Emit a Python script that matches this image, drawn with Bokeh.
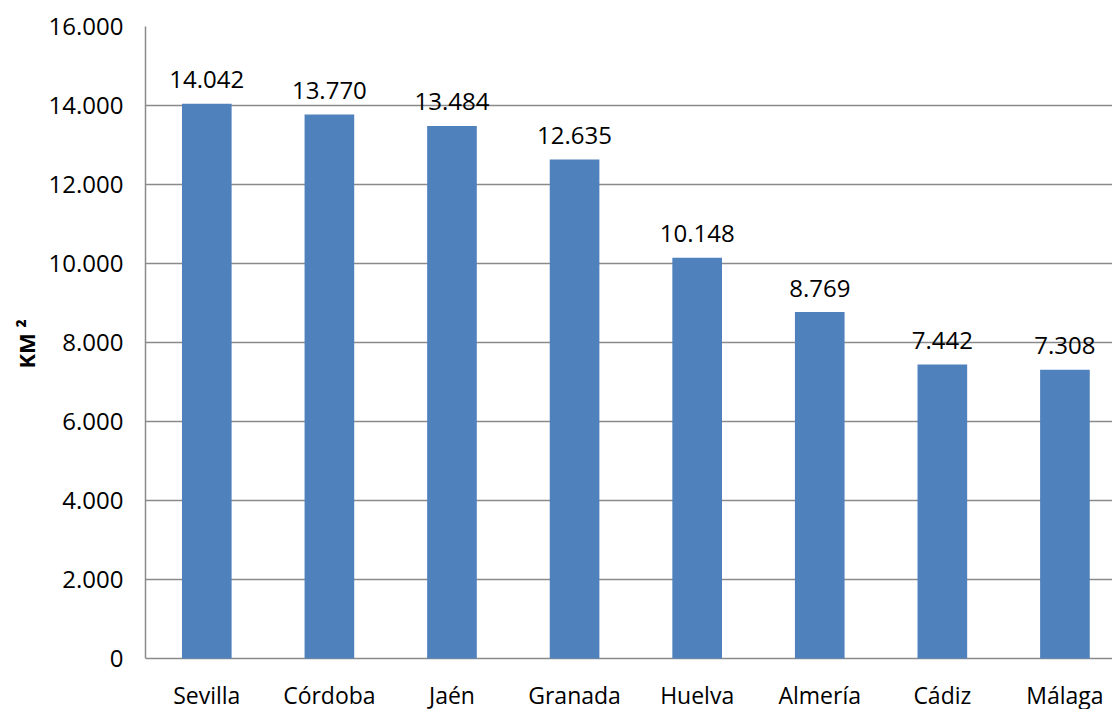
from bokeh.plotting import figure
from bokeh.models import Range1d, FixedTicker, ColumnDataSource, Title
from bokeh.embed import file_html
from bokeh.resources import INLINE
from bokeh.core.properties import value

provinces = ["Sevilla", "Córdoba", "Jaén", "Granada", "Huelva", "Almería", "Cádiz", "Málaga"]
areas = [14042, 13770, 13484, 12635, 10148, 8769, 7442, 7308]
area_labels = ["14.042", "13.770", "13.484", "12.635", "10.148", "8.769", "7.442", "7.308"]
y_ticks = [0, 2000, 4000, 6000, 8000, 10000, 12000, 14000, 16000]
y_tick_labels = ["0", "2.000", "4.000", "6.000", "8.000", "10.000", "12.000", "14.000", "16.000"]
y_title = "KM ²"

FONT = "Open Sans"
xs = [i + 0.5 for i in range(len(provinces))]
src = ColumnDataSource(dict(x=xs, top=areas, label=area_labels, name=provinces,
                            base=[0] * len(provinces)))

# frame runs from y=26 to the bottom of the canvas; value 0 sits 51px above it
H = 709
TOP = 26
ZERO_PX = 658
y_max = y_ticks[-1]
y_min = -y_max * (H - ZERO_PX) / (ZERO_PX - TOP)

p = figure(width=1112, height=H, output_backend="svg", toolbar_location=None,
           x_range=Range1d(0, 7.888), y_range=Range1d(y_min, y_max),
           min_border_left=145, min_border_right=0, min_border_top=TOP, min_border_bottom=0)
p.outline_line_color = None
p.background_fill_color = "white"
p.border_fill_color = "white"

p.vbar(x="x", top="top", width=0.405, bottom=0, source=src, fill_color="#4F81BD", line_color=None)
p.text(x="x", y="top", text="label", source=src, text_align="center", text_baseline="alphabetic",
       y_offset=-24, text_font=value(FONT), text_font_size="24px", text_color="#000000")
p.text(x="x", y="base", text="name", source=src, text_align="center", text_baseline="alphabetic",
       y_offset=36, text_font=value(FONT), text_font_size="23px", text_color="#000000")

p.xgrid.visible = False
p.ygrid.ticker = FixedTicker(ticks=y_ticks)
p.ygrid.grid_line_color = "#8a8a8a"
p.ygrid.grid_line_width = 1.5
p.xaxis.visible = False

p.yaxis.ticker = FixedTicker(ticks=y_ticks)
p.yaxis.major_label_overrides = {t: l for t, l in zip(y_ticks, y_tick_labels)}
p.yaxis.bounds = (0, y_max)
p.yaxis.axis_line_color = "#8a8a8a"
p.yaxis.axis_line_width = 1.5
p.yaxis.major_tick_line_color = None
p.yaxis.minor_tick_line_color = None
p.yaxis.major_tick_out = 0
p.yaxis.major_tick_in = 0
p.yaxis.major_label_text_font = FONT
p.yaxis.major_label_text_font_size = "24px"
p.yaxis.major_label_text_color = "#000000"
p.yaxis.major_label_standoff = 22

p.add_layout(Title(text=y_title, align="left", offset=341, text_font=FONT,
                   text_font_style="bold", text_font_size="22px", text_color="#000000",
                   standoff=10), "left")

open("out.html", "w").write(file_html(p, INLINE))
